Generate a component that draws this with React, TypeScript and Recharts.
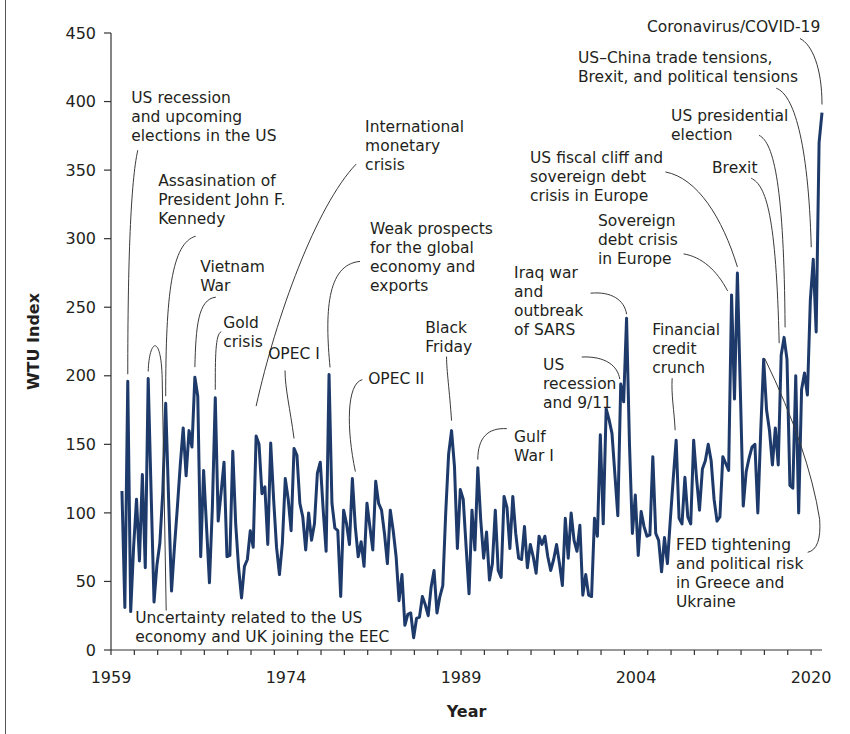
import React from 'react';
import { LineChart, Line, XAxis, YAxis, ReferenceDot, Label } from 'recharts';

// World Trade Uncertainty index, quarterly from 1960Q1 to 2020Q1
const wtuValues: number[] = [
  116, 31, 196, 28, 75, 110, 65, 128, 60, 198,
  115, 35, 62, 78, 115, 180, 110, 43, 75, 104,
  135, 162, 127, 160, 148, 199, 185, 68, 131, 90,
  49, 104, 184, 94, 115, 137, 68, 69, 145, 92,
  60, 38, 61, 66, 87, 75, 156, 150, 114, 119,
  77, 151, 110, 75, 55, 78, 125, 110, 87, 147,
  142, 107, 97, 73, 100, 80, 92, 129, 137, 102,
  72, 201, 107, 89, 87, 39, 102, 92, 77, 125,
  90, 68, 79, 61, 107, 90, 73, 123, 107, 102,
  85, 63, 102, 87, 68, 36, 55, 18, 26, 27,
  9, 23, 24, 39, 33, 25, 46, 58, 27, 39,
  47, 100, 143, 160, 134, 74, 117, 110, 75, 41,
  102, 73, 133, 95, 67, 86, 51, 63, 102, 58,
  53, 112, 104, 74, 112, 85, 67, 66, 90, 60,
  77, 68, 56, 83, 77, 83, 68, 58, 66, 77,
  63, 47, 96, 67, 100, 80, 72, 91, 40, 55,
  40, 39, 96, 83, 157, 92, 176, 168, 158, 128,
  98, 194, 181, 242, 150, 85, 113, 69, 101, 90,
  83, 84, 141, 85, 80, 57, 82, 63, 95, 125,
  153, 96, 92, 126, 97, 92, 153, 125, 102, 132,
  138, 150, 138, 110, 94, 97, 141, 136, 131, 259,
  183, 275, 190, 105, 130, 140, 148, 150, 100, 160,
  212, 175, 160, 135, 162, 135, 215, 228, 212, 120,
  118, 200, 100, 190, 202, 186, 255, 285, 232, 370,
  392,
];

const yTicks = [0, 50, 100, 150, 200, 250, 300, 350, 400, 450];
const yearLabels = ['1959', '1974', '1989', '2004', '2020'];
// tick slot (every 8 quarters) where each year label sits
const yearSlots = [0, 7.5, 15, 22.5, 30];

const X_MIN = -3.75;
const X_MAX = 240;
const tickSlots = Array.from({ length: 31 }, (_, k) => k);

const data = wtuValues.map((v, i) => ({
  q: i,
  quarter: `${1960 + Math.floor(i / 4)}Q${(i % 4) + 1}`,
  wtu: v,
}));

type Note = {
  idx: number;
  lines: string[];
  dx: number;
  dy: number;
  path: string;
};

// annotations anchored on a data point; text and leader are offsets from it
const notes: Note[] = [
  { idx: 2, lines: ['US recession', 'and upcoming', 'elections in the US'], dx: 3.5, dy: -278, path: 'M 0 -7 C 0 -120 3 -200 10 -231' },
  { idx: 15, lines: ['Assasination of', 'President John F.', 'Kennedy'], dx: -7.5, dy: -217, path: 'M 0 -7 C 0 -110 6 -160 30 -167' },
  { idx: 9, lines: ['Uncertainty related to the US', 'economy and UK joining the EEC'], dx: -13, dy: 244.5, path: 'M 0 -7 C 1 -40 13 -45 14 0 L 18 232' },
  { idx: 25, lines: ['Vietnam', 'War'], dx: 5.3, dy: -105, path: 'M 0 -10 C 1 -50 3 -78 21 -80' },
  { idx: 32, lines: ['Gold', 'crisis'], dx: 7.9, dy: -69.7, path: 'M 0 -8 C 0 -40 0 -64 6 -66' },
  { idx: 46, lines: ['International', 'monetary', 'crisis'], dx: 109, dy: -304, path: 'M 0 -30 C 20 -120 60 -230 100 -272' },
  { idx: 59, lines: ['OPEC I'], dx: -25.9, dy: -89.5, path: 'M 0 -10 C -4 -40 -9 -60 -9 -78' },
  { idx: 71, lines: ['Weak prospects', 'for the global', 'economy and', 'exports'], dx: 41, dy: -140.4, path: 'M 1 -7 C -4 -60 -3 -110 31 -113' },
  { idx: 79, lines: ['OPEC II'], dx: 15.8, dy: -94.6, path: 'M 3 -7 C -6 -50 -6 -95 10 -99' },
  { idx: 113, lines: ['Black', 'Friday'], dx: -26.4, dy: -97.6, path: 'M 0 -10 C -2 -40 -5 -60 -5 -74' },
  { idx: 122, lines: ['Gulf', 'War I'], dx: 36.3, dy: -25.6, path: 'M 0 -8 C 0 -30 10 -40 29 -39' },
  { idx: 171, lines: ['US', 'recession', 'and 9/11'], dx: -77.7, dy: -14, path: 'M -39 -27 C -15 -28 -3 -18 -1 -5' },
  { idx: 173, lines: ['Iraq war', 'and', 'outbreak', 'of SARS'], dx: -112.5, dy: -40, path: 'M -36 -25 C -15 -27 -2 -18 0 -4' },
  { idx: 190, lines: ['Financial', 'credit', 'crunch'], dx: -24, dy: -105, path: 'M -1 -10 C -2 -30 -5 -45 -4 -62' },
  { idx: 209, lines: ['Sovereign', 'debt crisis', 'in Europe'], dx: -133.6, dy: -69, path: 'M -48 -41 C -30 -38 -15 -25 -4 -4' },
  { idx: 211, lines: ['US fiscal cliff and', 'sovereign debt', 'crisis in Europe'], dx: -207.4, dy: -110, path: 'M -72 -101 C -40 -95 -15 -55 0 -6' },
  { idx: 226, lines: ['Brexit'], dx: -69.2, dy: -182, path: 'M -30 -177 C -15 -170 -5 -140 -2 -12' },
  { idx: 227, lines: ['US presidential', 'election'], dx: -113, dy: -216, path: 'M -25 -202 C -10 -195 0 -150 1 -10' },
  { idx: 237, lines: ['US\u2013China trade tensions,', 'Brexit, and political tensions'], dx: -235.3, dy: -196, path: 'M -37 -171 C -20 -165 -5 -120 -2 -12' },
  { idx: 240, lines: ['Coronavirus/COVID-19'], dx: -175, dy: -80.5, path: 'M -22 -74 C -10 -68 0 -45 0 -8' },
  { idx: 220, lines: ['FED tightening', 'and political risk', 'in Greece and', 'Ukraine'], dx: -87.7, dy: 190.7, path: 'M 1 -1 Q 45 90 56 160 Q 58 190 44 193' },
];

const FONT = "'DejaVu Sans', sans-serif";
const INK = '#231f20';
const LINE_GAP = 19;

const renderNote = (note: Note) => (props: any) => {
  const { cx, cy } = props;
  if (cx == null || cy == null) return <g />;
  return (
    <g transform={`translate(${cx},${cy})`}>
      <path d={note.path} fill="none" stroke="#3a3a3a" strokeWidth={1} />
      {note.lines.map((line, i) => (
        <text
          key={i}
          x={note.dx}
          y={note.dy + i * LINE_GAP}
          fontFamily={FONT}
          fontSize={15.5}
          fill={INK}
        >
          {line}
        </text>
      ))}
    </g>
  );
};

const XTick = (props: any) => {
  const { x, y, payload } = props;
  const slot = (payload.value - X_MIN) / 8;
  const isMark = Math.abs(slot - Math.round(slot)) < 1e-6;
  const labelIdx = yearSlots.findIndex((s) => Math.abs(s - slot) < 1e-6);
  return (
    <g>
      {isMark && <line x1={x} x2={x} y1={y} y2={y + 5} stroke="#333" strokeWidth={1.2} />}
      {labelIdx >= 0 && (
        <text x={x} y={y + 33} textAnchor="middle" fontFamily={FONT} fontSize={16} fill={INK}>
          {yearLabels[labelIdx]}
        </text>
      )}
    </g>
  );
};

const xTicks = Array.from(
  new Set([...tickSlots, ...yearSlots].map((k) => X_MIN + 8 * k))
).sort((a, b) => a - b);

export default function App() {
  return (
    <div style={{ position: 'absolute', left: 0, top: 0, width: 850, height: 734, background: '#fff' }}>
      <div style={{ position: 'absolute', left: 5, top: 0, width: 1, height: 734, background: '#555' }} />
      <LineChart
        width={850}
        height={734}
        data={data}
        margin={{ top: 33, right: 28, left: 0, bottom: 0 }}
      >
        <XAxis
          dataKey="q"
          type="number"
          domain={[X_MIN, X_MAX]}
          ticks={xTicks}
          interval={0}
          tick={<XTick />}
          tickLine={false}
          tickSize={0}
          tickMargin={0}
          height={84}
          axisLine={{ stroke: '#333', strokeWidth: 1.2 }}
        >
          <Label
            content={({ viewBox }: any) => (
              <text
                x={viewBox.x + viewBox.width / 2}
                y={viewBox.y + 67}
                textAnchor="middle"
                fontFamily={FONT}
                fontSize={16}
                fontWeight="bold"
                fill={INK}
              >
                Year
              </text>
            )}
          />
        </XAxis>
        <YAxis
          type="number"
          domain={[0, 450]}
          ticks={yTicks}
          interval={0}
          width={111}
          tickSize={7}
          tickMargin={8}
          tick={{ fontFamily: FONT, fontSize: 16, fill: INK }}
          tickLine={{ stroke: '#333', strokeWidth: 1.2 }}
          axisLine={{ stroke: '#333', strokeWidth: 1.2 }}
        >
          <Label
            content={({ viewBox }: any) => {
              const cx = viewBox.x + 33;
              const cy = viewBox.y + viewBox.height / 2;
              return (
                <text
                  x={cx}
                  y={cy}
                  transform={`rotate(-90, ${cx}, ${cy})`}
                  textAnchor="middle"
                  dominantBaseline="central"
                  fontFamily={FONT}
                  fontSize={16}
                  fontWeight="bold"
                  fill={INK}
                >
                  WTU Index
                </text>
              );
            }}
          />
        </YAxis>
        <Line
          type="linear"
          dataKey="wtu"
          stroke="#1d3a6a"
          strokeWidth={3}
          strokeLinejoin="round"
          dot={false}
          isAnimationActive={false}
        />
        {notes.map((note) => (
          <ReferenceDot
            key={note.idx}
            x={note.idx}
            y={wtuValues[note.idx]}
            r={0}
            ifOverflow="visible"
            shape={renderNote(note)}
          />
        ))}
      </LineChart>
    </div>
  );
}
